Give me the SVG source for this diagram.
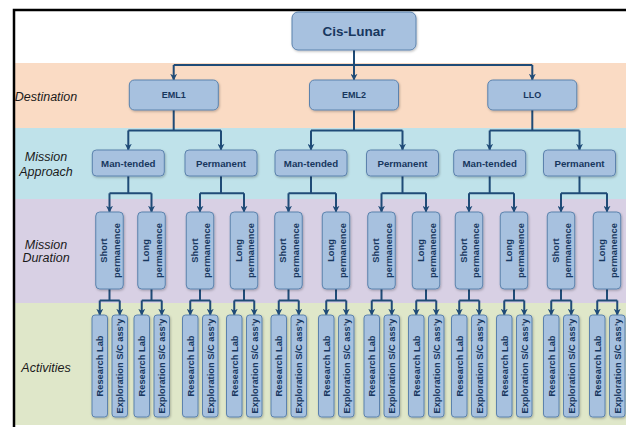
<svg xmlns="http://www.w3.org/2000/svg" width="626" height="427" viewBox="0 0 626 427">
<defs>
<style>
.box{fill:#a7c1df;stroke:#5b82ad;stroke-width:1;filter:url(#sh)}
.t{font-family:"Liberation Sans",Arial,sans-serif;font-weight:bold;fill:#17375e;text-anchor:middle}
.side{font-family:"Liberation Sans",Arial,sans-serif;font-style:italic;font-size:12.5px;fill:#1a1a1a;text-anchor:middle}
.c{fill:none;stroke:#1f4b77;stroke-width:2}
.a{fill:none;stroke:#1f4b77;stroke-width:2;marker-end:url(#ah)}
.s{font-size:9.3px}
</style>
<marker id="ah" viewBox="0 0 10 10" refX="9" refY="5" markerWidth="7" markerHeight="7" markerUnits="userSpaceOnUse" orient="auto">
<path d="M0,0 L10,5 L0,10 L3,5 z" fill="#1f4b77"/>
</marker>
<filter id="sh" x="-20%" y="-20%" width="140%" height="140%">
<feDropShadow dx="0.8" dy="1.2" stdDeviation="0.8" flood-color="#000" flood-opacity="0.25"/>
</filter>
</defs>

<g id="bands">
<rect x="15" y="63" width="611" height="65" fill="#fadbc4"/>
<rect x="15" y="128" width="611" height="71" fill="#bfe2ea"/>
<rect x="15" y="199" width="611" height="104" fill="#d8d0e4"/>
<rect x="15" y="303" width="611" height="122" fill="#dfe7c9"/>
<path d="M14,427 V10 H626" fill="none" stroke="#000" stroke-width="2.5"/>
</g>

<g id="side-labels">
<text class="side" x="46" y="101">Destination</text>
<text class="side" x="46" y="161">Mission</text>
<text class="side" x="46" y="175.5">Approach</text>
<text class="side" x="46" y="248.5">Mission</text>
<text class="side" x="46" y="262">Duration</text>
<text class="side" x="46" y="371.5">Activities</text>
</g>

<g id="connectors">
<path class="c" d="M354,50 V65 M173.7,65 H532.3"/>
<path class="a" d="M173.7,65 V80"/>
<path class="a" d="M354,65 V80"/>
<path class="a" d="M532.3,65 V80"/>

<path class="c" d="M173.7,110 V130.5 M128.3,130.5 H221"/>
<path class="a" d="M128.3,130.5 V150"/>
<path class="a" d="M221,130.5 V150"/>
<path class="c" d="M354,110 V130.5 M311,130.5 H402.5"/>
<path class="a" d="M311,130.5 V150"/>
<path class="a" d="M402.5,130.5 V150"/>
<path class="c" d="M532.3,110 V130.5 M489.7,130.5 H579.5"/>
<path class="a" d="M489.7,130.5 V150"/>
<path class="a" d="M579.5,130.5 V150"/>

<path class="c" d="M128.3,176 V193.3 M109.5,193.3 H151.5"/>
<path class="a" d="M109.5,193.3 V212"/><path class="a" d="M151.5,193.3 V212"/>
<path class="c" d="M221,176 V193.3 M200,193.3 H244"/>
<path class="a" d="M200,193.3 V212"/><path class="a" d="M244,193.3 V212"/>
<path class="c" d="M311,176 V193.3 M288.5,193.3 H336"/>
<path class="a" d="M288.5,193.3 V212"/><path class="a" d="M336,193.3 V212"/>
<path class="c" d="M402.5,176 V193.3 M381.5,193.3 H426"/>
<path class="a" d="M381.5,193.3 V212"/><path class="a" d="M426,193.3 V212"/>
<path class="c" d="M489.7,176 V193.3 M469,193.3 H514"/>
<path class="a" d="M469,193.3 V212"/><path class="a" d="M514,193.3 V212"/>
<path class="c" d="M579.5,176 V193.3 M561,193.3 H607"/>
<path class="a" d="M561,193.3 V212"/><path class="a" d="M607,193.3 V212"/>

<path class="c" d="M109.5,289 V300.5 M99.75,300.5 H119.75"/>
<path class="a" d="M99.75,300.5 V315"/><path class="a" d="M119.75,300.5 V315"/>
<path class="c" d="M151.5,289 V300.5 M141.75,300.5 H161.75"/>
<path class="a" d="M141.75,300.5 V315"/><path class="a" d="M161.75,300.5 V315"/>
<path class="c" d="M200,289 V300.5 M190.25,300.5 H210.25"/>
<path class="a" d="M190.25,300.5 V315"/><path class="a" d="M210.25,300.5 V315"/>
<path class="c" d="M244,289 V300.5 M234.25,300.5 H254.25"/>
<path class="a" d="M234.25,300.5 V315"/><path class="a" d="M254.25,300.5 V315"/>
<path class="c" d="M288.5,289 V300.5 M278.75,300.5 H298.75"/>
<path class="a" d="M278.75,300.5 V315"/><path class="a" d="M298.75,300.5 V315"/>
<path class="c" d="M336,289 V300.5 M326.25,300.5 H346.25"/>
<path class="a" d="M326.25,300.5 V315"/><path class="a" d="M346.25,300.5 V315"/>
<path class="c" d="M381.5,289 V300.5 M371.75,300.5 H391.75"/>
<path class="a" d="M371.75,300.5 V315"/><path class="a" d="M391.75,300.5 V315"/>
<path class="c" d="M426,289 V300.5 M416.25,300.5 H436.25"/>
<path class="a" d="M416.25,300.5 V315"/><path class="a" d="M436.25,300.5 V315"/>
<path class="c" d="M469,289 V300.5 M459.25,300.5 H479.25"/>
<path class="a" d="M459.25,300.5 V315"/><path class="a" d="M479.25,300.5 V315"/>
<path class="c" d="M514,289 V300.5 M504.25,300.5 H524.25"/>
<path class="a" d="M504.25,300.5 V315"/><path class="a" d="M524.25,300.5 V315"/>
<path class="c" d="M561,289 V300.5 M551.25,300.5 H571.25"/>
<path class="a" d="M551.25,300.5 V315"/><path class="a" d="M571.25,300.5 V315"/>
<path class="c" d="M607,289 V300.5 M597.25,300.5 H617.25"/>
<path class="a" d="M597.25,300.5 V315"/><path class="a" d="M617.25,300.5 V315"/>
</g>

<g id="cis-lunar"><rect class="box" x="292" y="12" width="124" height="38" rx="6"/><text class="t" x="354" y="36" font-size="13.5">Cis-Lunar</text></g>

<g id="eml1"><rect class="box" x="129.3" y="80" width="89" height="30" rx="5"/><text class="t" x="173.7" y="98.3" font-size="9">EML1</text></g>
<g id="eml2"><rect class="box" x="309.5" y="80" width="89" height="30" rx="5"/><text class="t" x="354" y="98.3" font-size="9">EML2</text></g>
<g id="llo"><rect class="box" x="487.8" y="80" width="89" height="30" rx="5"/><text class="t" x="532.3" y="98.3" font-size="9">LLO</text></g>

<g id="eml1-man-tended"><rect class="box" x="92.3" y="150" width="72" height="26" rx="4"/><text class="t" x="128.3" y="166.5" font-size="9.7">Man-tended</text></g>
<g id="eml1-permanent"><rect class="box" x="185" y="150" width="72" height="26" rx="4"/><text class="t" x="221" y="166.5" font-size="9.7">Permanent</text></g>
<g id="eml2-man-tended"><rect class="box" x="275" y="150" width="72" height="26" rx="4"/><text class="t" x="311" y="166.5" font-size="9.7">Man-tended</text></g>
<g id="eml2-permanent"><rect class="box" x="366.5" y="150" width="72" height="26" rx="4"/><text class="t" x="402.5" y="166.5" font-size="9.7">Permanent</text></g>
<g id="llo-man-tended"><rect class="box" x="453.7" y="150" width="72" height="26" rx="4"/><text class="t" x="489.7" y="166.5" font-size="9.7">Man-tended</text></g>
<g id="llo-permanent"><rect class="box" x="543.5" y="150" width="72" height="26" rx="4"/><text class="t" x="579.5" y="166.5" font-size="9.7">Permanent</text></g>

<g id="dur-1"><rect class="box" x="95.75" y="212" width="27.5" height="77" rx="4"/><text class="t s" transform="translate(109.5,250.5) rotate(-90)"><tspan x="0" y="-2.3">Short</tspan><tspan x="0" y="10">permanence</tspan></text></g>
<g id="dur-2"><rect class="box" x="137.75" y="212" width="27.5" height="77" rx="4"/><text class="t s" transform="translate(151.5,250.5) rotate(-90)"><tspan x="0" y="-2.3">Long</tspan><tspan x="0" y="10">permanence</tspan></text></g>
<g id="dur-3"><rect class="box" x="186.25" y="212" width="27.5" height="77" rx="4"/><text class="t s" transform="translate(200,250.5) rotate(-90)"><tspan x="0" y="-2.3">Short</tspan><tspan x="0" y="10">permanence</tspan></text></g>
<g id="dur-4"><rect class="box" x="230.25" y="212" width="27.5" height="77" rx="4"/><text class="t s" transform="translate(244,250.5) rotate(-90)"><tspan x="0" y="-2.3">Long</tspan><tspan x="0" y="10">permanence</tspan></text></g>
<g id="dur-5"><rect class="box" x="274.75" y="212" width="27.5" height="77" rx="4"/><text class="t s" transform="translate(288.5,250.5) rotate(-90)"><tspan x="0" y="-2.3">Short</tspan><tspan x="0" y="10">permanence</tspan></text></g>
<g id="dur-6"><rect class="box" x="322.25" y="212" width="27.5" height="77" rx="4"/><text class="t s" transform="translate(336,250.5) rotate(-90)"><tspan x="0" y="-2.3">Long</tspan><tspan x="0" y="10">permanence</tspan></text></g>
<g id="dur-7"><rect class="box" x="367.75" y="212" width="27.5" height="77" rx="4"/><text class="t s" transform="translate(381.5,250.5) rotate(-90)"><tspan x="0" y="-2.3">Short</tspan><tspan x="0" y="10">permanence</tspan></text></g>
<g id="dur-8"><rect class="box" x="412.25" y="212" width="27.5" height="77" rx="4"/><text class="t s" transform="translate(426,250.5) rotate(-90)"><tspan x="0" y="-2.3">Long</tspan><tspan x="0" y="10">permanence</tspan></text></g>
<g id="dur-9"><rect class="box" x="455.25" y="212" width="27.5" height="77" rx="4"/><text class="t s" transform="translate(469,250.5) rotate(-90)"><tspan x="0" y="-2.3">Short</tspan><tspan x="0" y="10">permanence</tspan></text></g>
<g id="dur-10"><rect class="box" x="500.25" y="212" width="27.5" height="77" rx="4"/><text class="t s" transform="translate(514,250.5) rotate(-90)"><tspan x="0" y="-2.3">Long</tspan><tspan x="0" y="10">permanence</tspan></text></g>
<g id="dur-11"><rect class="box" x="547.25" y="212" width="27.5" height="77" rx="4"/><text class="t s" transform="translate(561,250.5) rotate(-90)"><tspan x="0" y="-2.3">Short</tspan><tspan x="0" y="10">permanence</tspan></text></g>
<g id="dur-12"><rect class="box" x="593.25" y="212" width="27.5" height="77" rx="4"/><text class="t s" transform="translate(607,250.5) rotate(-90)"><tspan x="0" y="-2.3">Long</tspan><tspan x="0" y="10">permanence</tspan></text></g>

<g id="act-1a"><rect class="box" x="92" y="315" width="15.5" height="102" rx="3"/><text class="t s" transform="translate(99.75,366) rotate(-90)" y="3.3">Research Lab</text></g>
<g id="act-1b"><rect class="box" x="112" y="315" width="15.5" height="102" rx="3"/><text class="t s" transform="translate(119.75,366) rotate(-90)" y="3.3">Exploration S/C ass’y</text></g>
<g id="act-2a"><rect class="box" x="134" y="315" width="15.5" height="102" rx="3"/><text class="t s" transform="translate(141.75,366) rotate(-90)" y="3.3">Research Lab</text></g>
<g id="act-2b"><rect class="box" x="154" y="315" width="15.5" height="102" rx="3"/><text class="t s" transform="translate(161.75,366) rotate(-90)" y="3.3">Exploration S/C ass’y</text></g>
<g id="act-3a"><rect class="box" x="182.5" y="315" width="15.5" height="102" rx="3"/><text class="t s" transform="translate(190.25,366) rotate(-90)" y="3.3">Research Lab</text></g>
<g id="act-3b"><rect class="box" x="202.5" y="315" width="15.5" height="102" rx="3"/><text class="t s" transform="translate(210.25,366) rotate(-90)" y="3.3">Exploration S/C ass’y</text></g>
<g id="act-4a"><rect class="box" x="226.5" y="315" width="15.5" height="102" rx="3"/><text class="t s" transform="translate(234.25,366) rotate(-90)" y="3.3">Research Lab</text></g>
<g id="act-4b"><rect class="box" x="246.5" y="315" width="15.5" height="102" rx="3"/><text class="t s" transform="translate(254.25,366) rotate(-90)" y="3.3">Exploration S/C ass’y</text></g>
<g id="act-5a"><rect class="box" x="271" y="315" width="15.5" height="102" rx="3"/><text class="t s" transform="translate(278.75,366) rotate(-90)" y="3.3">Research Lab</text></g>
<g id="act-5b"><rect class="box" x="291" y="315" width="15.5" height="102" rx="3"/><text class="t s" transform="translate(298.75,366) rotate(-90)" y="3.3">Exploration S/C ass’y</text></g>
<g id="act-6a"><rect class="box" x="318.5" y="315" width="15.5" height="102" rx="3"/><text class="t s" transform="translate(326.25,366) rotate(-90)" y="3.3">Research Lab</text></g>
<g id="act-6b"><rect class="box" x="338.5" y="315" width="15.5" height="102" rx="3"/><text class="t s" transform="translate(346.25,366) rotate(-90)" y="3.3">Exploration S/C ass’y</text></g>
<g id="act-7a"><rect class="box" x="364" y="315" width="15.5" height="102" rx="3"/><text class="t s" transform="translate(371.75,366) rotate(-90)" y="3.3">Research Lab</text></g>
<g id="act-7b"><rect class="box" x="384" y="315" width="15.5" height="102" rx="3"/><text class="t s" transform="translate(391.75,366) rotate(-90)" y="3.3">Exploration S/C ass’y</text></g>
<g id="act-8a"><rect class="box" x="408.5" y="315" width="15.5" height="102" rx="3"/><text class="t s" transform="translate(416.25,366) rotate(-90)" y="3.3">Research Lab</text></g>
<g id="act-8b"><rect class="box" x="428.5" y="315" width="15.5" height="102" rx="3"/><text class="t s" transform="translate(436.25,366) rotate(-90)" y="3.3">Exploration S/C ass’y</text></g>
<g id="act-9a"><rect class="box" x="451.5" y="315" width="15.5" height="102" rx="3"/><text class="t s" transform="translate(459.25,366) rotate(-90)" y="3.3">Research Lab</text></g>
<g id="act-9b"><rect class="box" x="471.5" y="315" width="15.5" height="102" rx="3"/><text class="t s" transform="translate(479.25,366) rotate(-90)" y="3.3">Exploration S/C ass’y</text></g>
<g id="act-10a"><rect class="box" x="496.5" y="315" width="15.5" height="102" rx="3"/><text class="t s" transform="translate(504.25,366) rotate(-90)" y="3.3">Research Lab</text></g>
<g id="act-10b"><rect class="box" x="516.5" y="315" width="15.5" height="102" rx="3"/><text class="t s" transform="translate(524.25,366) rotate(-90)" y="3.3">Exploration S/C ass’y</text></g>
<g id="act-11a"><rect class="box" x="543.5" y="315" width="15.5" height="102" rx="3"/><text class="t s" transform="translate(551.25,366) rotate(-90)" y="3.3">Research Lab</text></g>
<g id="act-11b"><rect class="box" x="563.5" y="315" width="15.5" height="102" rx="3"/><text class="t s" transform="translate(571.25,366) rotate(-90)" y="3.3">Exploration S/C ass’y</text></g>
<g id="act-12a"><rect class="box" x="589.5" y="315" width="15.5" height="102" rx="3"/><text class="t s" transform="translate(597.25,366) rotate(-90)" y="3.3">Research Lab</text></g>
<g id="act-12b"><rect class="box" x="609.5" y="315" width="15.5" height="102" rx="3"/><text class="t s" transform="translate(617.25,366) rotate(-90)" y="3.3">Exploration S/C ass’y</text></g>
</svg>
